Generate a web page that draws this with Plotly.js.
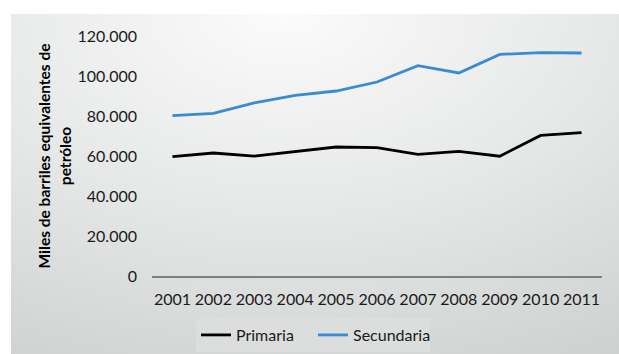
<!DOCTYPE html>
<html><head><meta charset="utf-8">
<script src="https://cdn.plot.ly/plotly-3.0.1.min.js"></script>
<style>
html,body{margin:0;padding:0;background:#fff;}
#wrap{position:relative;width:619px;height:354px;overflow:hidden;background:#fff;}
#bg{position:absolute;left:11px;top:14px;width:608px;height:340px;
 background:radial-gradient(ellipse 120% 130% at 45% 0%, #fbfbfb 0%, #e6e7e7 45%, #c9cbcb 100%);}
#chart{position:absolute;left:0;top:0;width:619px;height:354px;}
</style></head>
<body><div id="wrap"><div id="bg"></div><div id="chart"></div></div>
<script>
const years = ['2001','2002','2003','2004','2005','2006','2007','2008','2009','2010','2011'];
const primaria = [59700, 61500, 59900, 62300, 64500, 64200, 60800, 62300, 59900, 70300, 71700];
const secundaria = [80200, 81300, 86600, 90300, 92500, 97000, 105200, 101500, 110800, 111700, 111500];
const yTicks = [0, 20000, 40000, 60000, 80000, 100000, 120000];

const font = 'Lato, "Open Sans", sans-serif';
const data = [
 {x: years, y: primaria, type:'scatter', mode:'lines', name:'Primaria',
  line:{color:'#000000', width:2.8}},
 {x: years, y: secundaria, type:'scatter', mode:'lines', name:'Secundaria',
  line:{color:'#3a8bd0', width:2.8}}
];
const layout = {
 width:619, height:354,
 paper_bgcolor:'rgba(0,0,0,0)', plot_bgcolor:'rgba(0,0,0,0)',
 margin:{l:152, r:17, t:36, b:78},
 separators:',.',
 font:{family:font, size:16, color:'#1a1a1a'},
 showlegend:true,
 legend:{orientation:'h', xref:'container', yref:'container', x:196/619, y:1-318/354,
  xanchor:'left', yanchor:'top', bgcolor:'#dcdddd', font:{family:font, size:16, color:'#1a1a1a'},
  itemwidth:30, entrywidth:72, tracegroupgap:0},
 xaxis:{type:'category', range:[-0.5,10.5], showgrid:false, zeroline:false, showline:true, linecolor:'#7f7f7f', linewidth:1.5,
  ticks:'', ticklabelstandoff:8, tickfont:{family:font, size:16}, fixedrange:true},
 yaxis:{range:[0,120000], tickvals:yTicks, tickformat:',d', showgrid:false, zeroline:false, showline:false,
  ticks:'', ticklabelstandoff:14, tickfont:{family:font, size:16},
  title:{text:'<b>Miles de barriles equivalentes de<br>petróleo</b>', font:{family:font, size:15.5, color:'#000'}, standoff:2},
  automargin:false}
};
Plotly.newPlot('chart', data, layout, {staticPlot:true, displayModeBar:false});
</script></body></html>
